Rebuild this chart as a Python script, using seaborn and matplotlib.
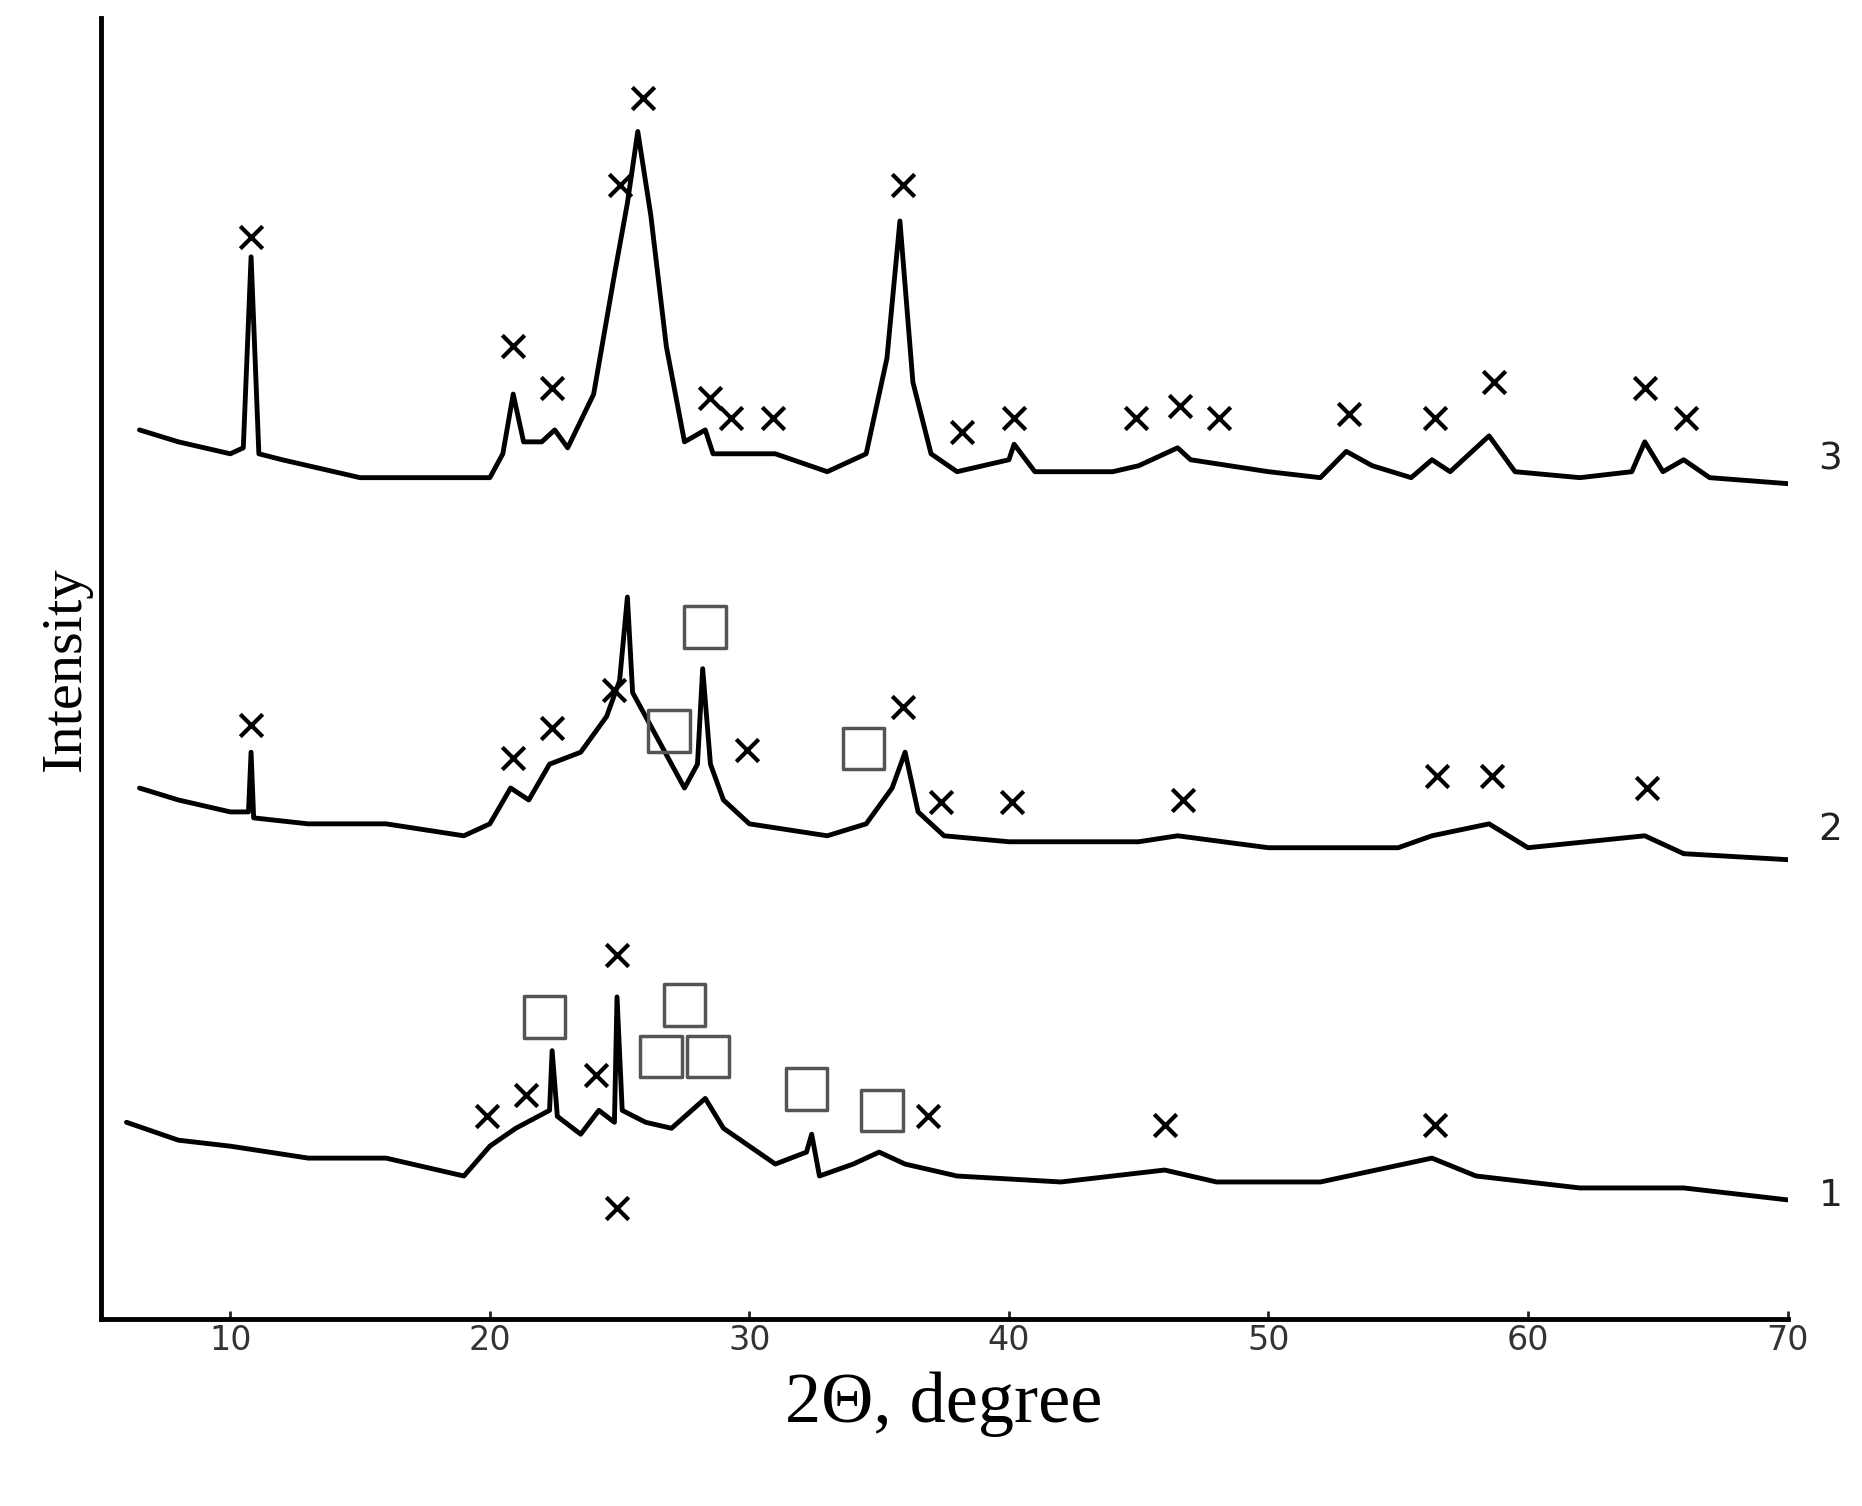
import matplotlib
matplotlib.use("Agg")
import matplotlib.pyplot as plt
import seaborn as sns
import pandas as pd

# values (intensity in arbitrary units, offset per pattern)
x3 = [6.5,8,10,10.5,10.8,11.1,12,15,18,20,20.5,20.9,21.3,22,22.5,23,24,24.8,25.3,25.7,26.2,26.8,27.5,28.3,28.6,29.5,31,33,34.5,35.3,35.8,36.3,37,38,40,40.2,41,44,45,46.5,47,48.5,50,52,53,54,55.5,56.3,57,58.5,59.5,62,64,64.5,65.2,66,67,70]
p3 = [360,370,380,375,215,380,385,400,400,400,380,330,370,370,360,375,330,230,170,110,180,290,370,360,380,380,380,395,380,300,185,320,380,395,385,372,395,395,390,375,385,390,395,400,378,390,400,385,395,365,395,400,395,370,395,385,400,405]
x2 = [6.5,8,10,10.7,10.8,10.9,13,16,19,20,20.8,21.5,22.3,23.5,24.5,25,25.3,25.5,26.5,27.5,28.0,28.2,28.5,29,30,33,34.5,35.5,36,36.5,37.5,40,45,46.5,50,55,56.3,58.5,60,64.5,66,70]
p2 = [660,670,680,680,630,685,690,690,700,690,660,670,640,630,600,570,500,580,620,660,640,560,640,670,690,700,690,660,630,680,700,705,705,700,710,710,700,690,710,700,715,720]
x1 = [6,8,10,13,16,19,20,21,22.3,22.4,22.6,23.5,24.2,24.8,24.9,25.1,26,27,28.3,29,31,32.2,32.4,32.7,34,35,36,38,42,46,48,52,56.3,58,62,66,70]
p1 = [940,955,960,970,970,985,960,945,930,880,935,950,930,940,835,930,940,945,920,945,975,965,950,985,975,965,975,985,990,980,990,990,970,985,995,995,1005]

cross_x = [10.8,20.9,22.4,25,25.9,28.5,29.3,30.9,35.9,38.2,40.2,44.9,46.6,48.1,53.1,56.4,58.7,64.5,66.1,
           10.8,20.9,22.4,24.8,29.9,35.9,37.4,40.1,46.7,56.5,58.6,64.6,
           19.9,21.4,24.1,24.9,24.9,36.9,46.0,56.4]
cross_p = [198,290,325,155,82,333,350,350,155,362,350,350,340,350,347,350,320,325,350,
           607,635,610,578,628,592,672,672,670,650,650,660,
           935,917,900,800,1012,935,942,942]
sq_x = [28.3,26.9,34.4,22.1,27.5,26.6,28.4,32.2,35.1]
sq_p = [525,612,627,852,842,885,885,912,930]
labels = ["3","2","1"]
label_p = [385,695,1002]

BASE = 1105
def conv(p): return [BASE - v for v in p]

sns.set_theme(style="white")
fig = plt.figure(figsize=(18.62, 15.06), dpi=100)
ax = fig.add_axes([0.054, 0.124, 0.906, 0.864])

frames = []
for name, xs, ps in [("3", x3, p3), ("2", x2, p2), ("1", x1, p1)]:
    frames.append(pd.DataFrame({"x": xs, "y": conv(ps), "s": name}))
df = pd.concat(frames)
sns.lineplot(data=df, x="x", y="y", units="s", estimator=None, color="black",
             linewidth=3.5, ax=ax, sort=False, legend=False)

ax.scatter(cross_x, conv(cross_p), marker="x", s=260, color="black", linewidths=3, zorder=5)
ax.scatter(sq_x, conv(sq_p), marker="s", s=900, facecolors="none", edgecolors="#555555",
           linewidths=2.5, zorder=5)
for lab, p in zip(labels, label_p):
    ax.text(71.2, BASE - p, lab, fontsize=27, va="center", ha="left", color="#222222")

ax.set_xlim(5, 70)
ax.set_ylim(0, 1090)
ax.set_yticks([])
ax.set_xticks([10, 20, 30, 40, 50, 60, 70])
ax.tick_params(axis="x", labelsize=24, direction="in", length=6, width=2, bottom=True,
               labelcolor="#333333")
for s in ["top", "right"]:
    ax.spines[s].set_visible(False)
for s in ["left", "bottom"]:
    ax.spines[s].set_color("black")
    ax.spines[s].set_linewidth(3.5)
ax.set_xlabel("2Θ, degree", fontsize=52, family="Liberation Serif", labelpad=10, color="black")
ax.set_ylabel("Intensity", fontsize=42, family="Liberation Serif", labelpad=6, color="black")
fig.savefig("out.png", dpi=100)
